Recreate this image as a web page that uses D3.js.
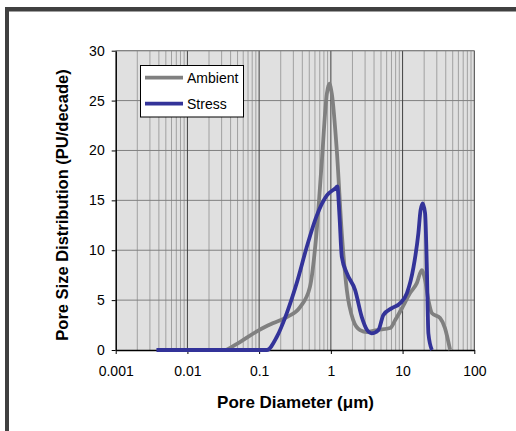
<!DOCTYPE html>
<html>
<head>
<meta charset="utf-8">
<script src="https://cdn.jsdelivr.net/npm/d3@7"></script>
<style>
  body { margin: 0; background: #fff; }
  svg { display: block; font-family: "Liberation Sans", Arial, sans-serif; }
</style>
</head>
<body>
<svg id="chart" width="516" height="431"></svg>
<script>
// pore diameter (um) vs distribution (PU/decade)
const ambientD = [0.035, 0.054, 0.1, 0.158, 0.243, 0.372, 0.51, 0.63, 0.74, 0.88, 0.95, 1.03, 1.21, 1.42, 1.67, 2.05, 2.55, 3.2, 4.4, 6.7, 7.9, 10, 12.7, 15.8, 18.5, 20.6, 22.9, 25.6, 33.3, 39, 46];
const ambientV = [0, 0.8, 2.0, 2.7, 3.3, 4.3, 6.3, 11.7, 18.4, 25.7, 26.7, 25.7, 20, 11.7, 6.0, 3.0, 2.0, 1.8, 2.0, 2.2, 3.0, 4.3, 5.7, 6.7, 8.0, 7.0, 5.0, 3.7, 3.2, 2.2, 0];
const stressD = [0.0037, 0.128, 0.176, 0.243, 0.334, 0.46, 0.63, 0.88, 1.15, 1.23, 1.32, 1.42, 1.67, 2.18, 2.7, 3.2, 3.7, 4.6, 5.4, 7.1, 9.3, 11.5, 14.2, 16.6, 17.8, 19.1, 20.6, 21.8, 22.9, 25.6];
const stressV = [0, 0, 1.3, 3.7, 6.7, 10.3, 13.4, 15.5, 16.2, 16.4, 13.4, 9.35, 7.7, 6.0, 3.3, 2.0, 1.67, 2.0, 3.5, 4.2, 4.7, 5.7, 8.3, 11.7, 14.0, 14.7, 13.7, 8.3, 1.67, 0];
const xTicks = [0.001, 0.01, 0.1, 1, 10, 100];
const yTicks = [0, 5, 10, 15, 20, 25, 30];

const svg = d3.select('#chart');
const L = 115.7, R = 474.3, T = 50.7, B = 350;

const x = d3.scaleLog().domain([0.001, 100]).range([L, R]);
const y = d3.scaleLinear().domain([0, 30]).range([B, T]);

// outer frame (only top and left edges are visible)
svg.append('rect').attr('x', 5).attr('y', 7).attr('width', 4).attr('height', 424).attr('fill', '#404040');
svg.append('rect').attr('x', 5).attr('y', 7).attr('width', 511).attr('height', 4.5).attr('fill', '#404040');

svg.append('rect').attr('x', L).attr('y', T).attr('width', R - L).attr('height', B - T).attr('fill', '#e0e0e0');

// minor vertical grid
const minor = [];
for (let e = -3; e < 2; e++) {
  for (let m = 2; m <= 9; m++) minor.push(m * Math.pow(10, e));
}
svg.append('g').selectAll('line').data(minor).enter().append('line')
  .attr('x1', d => x(d)).attr('x2', d => x(d)).attr('y1', T).attr('y2', B)
  .attr('stroke', '#a0a0a0').attr('stroke-width', 1);

// horizontal grid
svg.append('g').selectAll('line').data(yTicks.slice(1)).enter().append('line')
  .attr('x1', L).attr('x2', R).attr('y1', d => y(d)).attr('y2', d => y(d))
  .attr('stroke', '#808080').attr('stroke-width', 1);

// decade grid
svg.append('g').selectAll('line').data(xTicks.slice(1)).enter().append('line')
  .attr('x1', d => x(d)).attr('x2', d => x(d)).attr('y1', T).attr('y2', B)
  .attr('stroke', '#404040').attr('stroke-width', 1);

svg.append('line').attr('x1', L).attr('x2', R).attr('y1', T).attr('y2', T).attr('stroke', '#808080');

// axes
const xAxis = svg.append('g').attr('transform', 'translate(0,' + B + ')')
  .call(d3.axisBottom(x).tickValues(xTicks).tickFormat(d => String(d)).tickSizeInner(4).tickSizeOuter(0));
const yAxis = svg.append('g').attr('transform', 'translate(' + L + ',0)')
  .call(d3.axisLeft(y).tickValues(yTicks).tickSizeInner(4).tickSizeOuter(0));
[xAxis, yAxis].forEach(g => {
  g.select('.domain').attr('stroke', '#000').attr('stroke-width', 1.5);
  g.selectAll('.tick line').attr('stroke', '#000');
  g.selectAll('text').attr('font-family', '"Liberation Sans", Arial, sans-serif').attr('font-size', 14).attr('fill', '#000');
});
xAxis.selectAll('text').attr('dy', '1.35em');
yAxis.selectAll('text').attr('x', -11);

// curves
const line = d3.line().x(d => x(d[0])).y(d => y(d[1])).curve(d3.curveMonotoneX);
svg.append('path').datum(d3.zip(ambientD, ambientV)).attr('d', line)
  .attr('fill', 'none').attr('stroke', '#808080').attr('stroke-width', 3.8).attr('stroke-linejoin', 'round');
svg.append('path').datum(d3.zip(stressD, stressV)).attr('d', line)
  .attr('fill', 'none').attr('stroke', '#333399').attr('stroke-width', 3.8).attr('stroke-linejoin', 'round');

// legend
const lg = svg.append('g');
lg.append('rect').attr('x', 140.5).attr('y', 65.5).attr('width', 103).attr('height', 51.5)
  .attr('fill', '#fff').attr('stroke', '#000').attr('stroke-width', 1);
[['Ambient', '#808080', 77.7], ['Stress', '#333399', 103.7]].forEach(([name, col, ly]) => {
  lg.append('line').attr('x1', 145).attr('x2', 183).attr('y1', ly).attr('y2', ly)
    .attr('stroke', col).attr('stroke-width', 3.8);
  lg.append('text').attr('x', 187).attr('y', ly + 5).attr('font-size', 14).text(name);
});

// axis titles
svg.append('text').attr('x', 295.5).attr('y', 408).attr('text-anchor', 'middle')
  .attr('font-size', 17).attr('font-weight', 'bold').text('Pore Diameter (μm)');
svg.append('text').attr('transform', 'translate(68,205) rotate(-90)').attr('text-anchor', 'middle')
  .attr('font-size', 16.5).attr('font-weight', 'bold').text('Pore Size Distribution (PU/decade)');
</script>
</body>
</html>
